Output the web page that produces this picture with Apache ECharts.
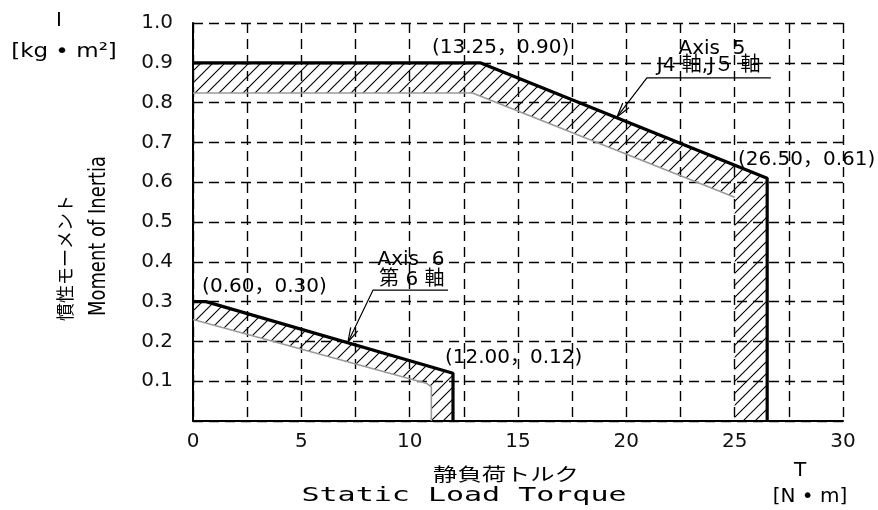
<!DOCTYPE html>
<html>
<head>
<meta charset="utf-8">
<script src="https://cdn.jsdelivr.net/npm/echarts@6/dist/echarts.min.js"></script>
<style>
html,body{margin:0;padding:0;background:#fff;}
#chart{width:878px;height:510px;}
</style>
</head>
<body>
<div id="chart"></div>
<script>
// 許容範囲 上側の線 (J4軸,J5軸 / 第6軸)
var axis5Upper = [[0, 0.90], [13.25, 0.90], [26.50, 0.61], [26.50, 0]];
var axis5Lower = [[0, 0.824], [12.9, 0.824], [25.0, 0.562]];
var axis6Upper = [[0, 0.30], [0.60, 0.30], [12.00, 0.12], [12.00, 0]];
var axis6Lower = [[0, 0.255], [10.8, 0.094], [11.0, 0.086], [11.0, 0]];

// 目盛りラベル
var xLabels = ['0', '5', '10', '15', '20', '25', '30'];
var yLabels = ['0.1', '0.2', '0.3', '0.4', '0.5', '0.6', '0.7', '0.8', '0.9', '1.0'];

// 注記
var noteTexts = ['(13.25，0.90)', '(26.50，0.61)', '(0.60，0.30)', '(12.00，0.12)',
                 'Axis  5', 'J4 軸,J５ 軸', 'Axis  6', '第 6 軸'];
var notePoints = [[11.03, 0.938], [25.15, 0.656], [0.42, 0.336], [11.63, 0.16],
                  [23.95, 0.935], [23.8, 0.893], [10.06, 0.404], [10.1, 0.355]];
var leader5 = [[26.67, 0.862], [20.95, 0.862], [19.57, 0.764]];
var leader6 = [[11.77, 0.329], [8.31, 0.329], [7.15, 0.198]];

var shapes = [
  {upper: axis5Upper, lower: axis5Lower},
  {upper: axis6Upper, lower: axis6Lower}
];
var leaders = [leader5, leader6];

// 斜線のハッチング
function makeHatch() {
  var s = 12;
  var c = document.createElement('canvas');
  c.width = s; c.height = s;
  var ctx = c.getContext('2d');
  ctx.strokeStyle = '#000';
  ctx.lineWidth = 1.1;
  ctx.beginPath();
  ctx.moveTo(0, s); ctx.lineTo(s, 0);
  ctx.moveTo(-2, 2); ctx.lineTo(2, -2);
  ctx.moveTo(s - 2, s + 2); ctx.lineTo(s + 2, s - 2);
  ctx.stroke();
  return {image: c, repeat: 'repeat'};
}
var hatch = makeHatch();

var FONT = 'DejaVu Sans, Noto Sans CJK JP';

function hatchItem(params, api) {
  var sh = shapes[params.dataIndex];
  var pts = sh.upper.map(function (p) { return api.coord(p); });
  var last = sh.lower[sh.lower.length - 1];
  pts.push(api.coord([last[0], 0]));
  for (var i = sh.lower.length - 1; i >= 0; i--) pts.push(api.coord(sh.lower[i]));
  return {type: 'polygon', shape: {points: pts}, style: {fill: hatch, stroke: null}};
}

function leaderItem(params, api) {
  var pts = leaders[params.dataIndex].map(function (p) { return api.coord(p); });
  var tip = pts[pts.length - 1], prev = pts[pts.length - 2];
  var dx = prev[0] - tip[0], dy = prev[1] - tip[1];
  var len = Math.sqrt(dx * dx + dy * dy);
  dx /= len; dy /= len;
  var L = 15, a = 0.26;
  function wing(sign) {
    var c = Math.cos(a * sign), s = Math.sin(a * sign);
    return [tip[0] + L * (dx * c - dy * s), tip[1] + L * (dx * s + dy * c)];
  }
  return {
    type: 'group',
    children: [
      {type: 'polyline', shape: {points: pts}, style: {stroke: '#000', lineWidth: 1.2, fill: null}},
      {type: 'polyline', shape: {points: [wing(1), tip, wing(-1)]}, style: {stroke: '#000', lineWidth: 1.2, fill: null}}
    ]
  };
}

function noteItem(params, api) {
  var i = params.dataIndex;
  var p = api.coord(notePoints[i]);
  var left = i < 4;
  return {
    type: 'text',
    x: p[0], y: p[1],
    style: {
      text: noteTexts[i],
      fill: '#000',
      fontSize: 20,
      fontFamily: FONT,
      align: left ? 'left' : 'center',
      verticalAlign: 'middle'
    }
  };
}

function txt(text, x, y, opt) {
  opt = opt || {};
  return {
    type: 'text', x: x, y: y,
    rotation: opt.rotation || 0,
    scaleX: opt.scaleX || 1,
    style: {
      text: text, fill: '#000',
      fontSize: opt.size || 20,
      fontFamily: opt.family || FONT,
      align: 'center', verticalAlign: 'middle',
      textAlign: 'center', textVerticalAlign: 'middle'
    }
  };
}

var chart = echarts.init(document.getElementById('chart'));
chart.setOption({
  animation: false,
  backgroundColor: '#fff',
  grid: {left: 193, right: 35, top: 23, bottom: 89, containLabel: false},
  xAxis: {
    type: 'value', min: 0, max: 30, interval: 2.5,
    axisLine: {show: true, lineStyle: {color: '#000', width: 2}},
    axisTick: {show: false},
    axisLabel: {
      margin: 11, fontSize: 20, color: '#111', fontFamily: FONT,
      formatter: function (v) {
        var s = String(v);
        return xLabels.indexOf(s) >= 0 ? s : '';
      }
    },
    splitLine: {show: true, lineStyle: {color: '#000', width: 1.4, type: [10, 6]}}
  },
  yAxis: {
    type: 'value', min: 0, max: 1, interval: 0.1,
    axisLine: {show: true, lineStyle: {color: '#000', width: 2}},
    axisTick: {show: false},
    axisLabel: {
      margin: 20, fontSize: 20, color: '#111', fontFamily: FONT,
      formatter: function (v) {
        var s = v.toFixed(1);
        return yLabels.indexOf(s) >= 0 ? s : '';
      }
    },
    splitLine: {show: true, lineStyle: {color: '#000', width: 1.4, type: [10, 6]}}
  },
  graphic: [
    txt('I', 59, 21),
    txt('[kg • m²]', 64, 52, {scaleX: 1.15}),
    txt('慣性モーメント', 67, 258, {rotation: Math.PI / 2, size: 18}),
    txt('Moment of Inertia', 99, 236, {rotation: Math.PI / 2, size: 23, scaleX: 0.78}),
    txt('静負荷トルク', 506, 476, {size: 18, scaleX: 1.35}),
    txt('Static Load Torque', 464, 496, {family: 'DejaVu Sans Mono', scaleX: 1.5}),
    txt('T', 800, 471),
    txt('[N • m]', 810, 497)
  ],
  series: [
    {type: 'custom', renderItem: hatchItem, data: [0, 1], z: 1, silent: true},
    {type: 'line', data: axis5Lower, symbol: 'none', z: 2, lineStyle: {color: '#9a9a9a', width: 1.6}},
    {type: 'line', data: axis6Lower, symbol: 'none', z: 2, lineStyle: {color: '#9a9a9a', width: 1.6}},
    {type: 'line', data: axis5Upper, symbol: 'none', z: 3, lineStyle: {color: '#000', width: 3.2}},
    {type: 'line', data: axis6Upper, symbol: 'none', z: 3, lineStyle: {color: '#000', width: 3.2}},
    {type: 'custom', renderItem: leaderItem, data: [0, 1], z: 4, silent: true},
    {type: 'custom', renderItem: noteItem, data: noteTexts.map(function (t, i) { return i; }), z: 5, silent: true}
  ]
});
</script>
</body>
</html>
